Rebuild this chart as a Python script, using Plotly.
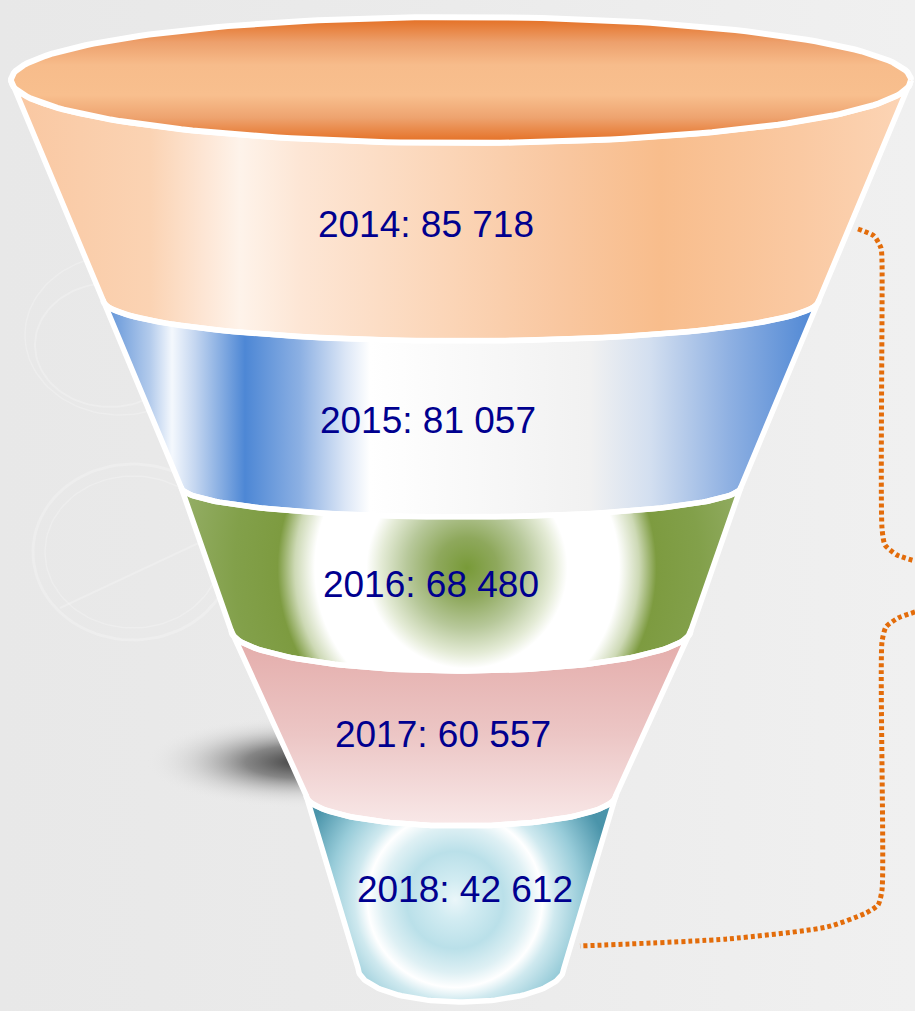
import numpy as np
import plotly.graph_objects as go

# ---------------- data ----------------
years = ["2014", "2015", "2016", "2017", "2018"]
values = [85718, 81057, 68480, 60557, 42612]

# ---------------- decorative funnel geometry (pixel-like axis units) ----------------
CX = 461
RIM_Y, RIM_A, RIM_B = 80, 450, 63
LEVEL_Y = [300, 487, 630, 795, 968]      # y of band boundary ends
LEVEL_HALF = [358, 280, 230, 155, 103]   # half width of boundary
LEVEL_SAG = [41, 30, 41, 31, 34]         # ellipse depth of boundary
LABEL_X = [426, 428, 431, 443, 465]
LABEL_Y = [228, 424, 588, 738, 893]

labels = [f"{y}: {v:,}".replace(",", " ") for y, v in zip(years, values)]


def arc(yc, a, b, t0, t1, n=90):
    t = np.linspace(t0, t1, n)
    return list(CX + a * np.cos(t)), list(yc + b * np.sin(t))


def band_outline(i):
    if i == 0:
        tx, ty = arc(RIM_Y, RIM_A, RIM_B, np.pi, 0)
    else:
        tx, ty = arc(LEVEL_Y[i - 1], LEVEL_HALF[i - 1], LEVEL_SAG[i - 1], np.pi, 0)
    bx, by = arc(LEVEL_Y[i], LEVEL_HALF[i], LEVEL_SAG[i], 0, np.pi)
    return tx + bx, ty + by


def pad_square(xs, ys, cx, cy):
    xs, ys = list(xs), list(ys)
    R = max(max(abs(x - cx) for x in xs), max(abs(y - cy) for y in ys)) + 1
    px, py = xs[-1], ys[-1]
    for qx, qy in [(cx - R, py), (cx + R, py), (px, cy - R), (px, cy + R)]:
        xs += [qx, px]
        ys += [qy, py]
    return xs, ys, R


def scale(start, stop, stops):
    return [[(v - start) / (stop - start), c] for v, c in stops]


fig = go.Figure()

# background
fig.add_trace(go.Scatter(
    x=[0, 915, 915, 0, 0], y=[0, 0, 1011, 1011, 0], mode="lines", fill="toself",
    line=dict(width=0),
    fillgradient=dict(type="horizontal", start=0, stop=915,
                      colorscale=[[0, "#e8e8e8"], [0.5, "#ebebeb"], [1, "#f0f0f0"]]),
    hoverinfo="skip"))

# faint aerial-photo features
for (ex, ey, ea, eb, w) in [(133, 552, 100, 88, 3), (133, 552, 88, 76, 1.5), (110, 345, 75, 62, 2),
                            (120, 335, 95, 80, 1.5)]:
    t = np.linspace(0, 2 * np.pi, 120)
    fig.add_trace(go.Scatter(x=ex + ea * np.cos(t), y=ey + eb * np.sin(t), mode="lines",
                             line=dict(color="rgba(255,255,255,0.22)", width=w), hoverinfo="skip"))
fig.add_trace(go.Scatter(x=[60, 205], y=[608, 540], mode="lines",
                         line=dict(color="rgba(255,255,255,0.22)", width=2), hoverinfo="skip"))

# shadow
t = np.linspace(0, 2 * np.pi, 120)
fig.add_trace(go.Scatter(
    x=300 + 155 * np.cos(t), y=762 + 46 * np.sin(t), mode="lines", fill="toself",
    line=dict(width=0),
    fillgradient=dict(type="radial", colorscale=[[0, "rgba(55,55,55,0.95)"], [0.35, "rgba(90,90,90,0.7)"],
                                                 [0.7, "rgba(170,170,170,0.3)"], [1, "rgba(233,233,233,0)"]]),
    hoverinfo="skip"))

# band fills
fills = []
# 2014 peach, horizontal
fills.append(dict(type="horizontal", start=11, stop=911, colorscale=scale(11, 911, [
    (11, "#f9c7a1"), (150, "#fbd3b3"), (205, "#fde6d5"), (240, "#fef3ea"), (300, "#fde6d5"),
    (450, "#fbd5b7"), (560, "#f9c7a0"), (660, "#f8bd8c"), (800, "#fac9a2"), (911, "#fcd5b6")])))
# 2015 blue, horizontal
fills.append(dict(type="horizontal", start=103, stop=822, colorscale=scale(103, 822, [
    (103, "#5a8fd6"), (150, "#b3cbec"), (172, "#f4f8fd"), (195, "#c4d6f0"), (245, "#4d87d5"),
    (300, "#8cb0e3"), (345, "#dbe6f6"), (370, "#ffffff"), (480, "#f8f8f8"), (590, "#f1f1f1"),
    (650, "#d3dff0"), (730, "#8eb0e2"), (822, "#4a84d3")])))
# 2016 green, radial
fills.append(dict(type="radial", center=(467, 568), colorscale=[
    [0, "#789a38"], [0.105, "#8ea85c"], [0.21, "#b7c89a"], [0.30, "#e4ebd6"], [0.35, "#ffffff"],
    [0.53, "#ffffff"], [0.60, "#cdd9b5"], [0.66, "#7d9b40"], [0.81, "#82a04a"], [1, "#93ad64"]]))
# 2017 pink, vertical
fills.append(dict(type="vertical", start=640, stop=830, colorscale=[
    [0, "#e4adab"], [0.5, "#ecc6c5"], [1, "#f9eaea"]]))
# 2018 cyan, radial
fills.append(dict(type="radial", center=(455, 900), colorscale=[
    [0, "#eaf6f9"], [0.12, "#d2ecf2"], [0.3, "#bae0e9"], [0.45, "#def0f4"], [0.54, "#ffffff"],
    [0.62, "#cfe9ef"], [0.78, "#98ccd9"], [1, "#4a94aa"]]))

for i in range(len(years)):
    xs, ys = band_outline(i)
    spec = dict(fills[i])
    if spec["type"] == "radial":
        cx, cy = spec.pop("center")
        xs, ys, _ = pad_square(xs, ys, cx, cy)
    fig.add_trace(go.Scatter(x=xs, y=ys, mode="lines", fill="toself", line=dict(width=0),
                             fillgradient=spec, hoverinfo="skip"))

for i in range(len(years)):
    xs, ys = band_outline(i)
    fig.add_trace(go.Scatter(x=xs + xs[:1], y=ys + ys[:1], mode="lines",
                             line=dict(color="white", width=5.5), hoverinfo="skip"))

# rim (opening of the funnel)
rx, ry = arc(RIM_Y, RIM_A, RIM_B, 0, 2 * np.pi, 200)
fig.add_trace(go.Scatter(
    x=rx, y=ry, mode="lines", fill="toself", line=dict(color="white", width=6),
    fillgradient=dict(type="vertical", start=RIM_Y - RIM_B, stop=RIM_Y + RIM_B, colorscale=[
        [0, "#e36c1f"], [0.2, "#eda06c"], [0.38, "#f7bc8b"], [0.62, "#f8bf8e"], [0.8, "#eea36f"],
        [1, "#e46d21"]]),
    hoverinfo="skip"))

# dotted bracket
bracket = [
    ([858, 874, 881, 882, 882, 885, 897, 915], [229, 236, 248, 262, 528, 545, 555, 561]),
    ([915, 898, 886, 882, 882, 878, 866, 827, 727, 580], [612, 618, 627, 642, 890, 905, 913, 927, 939, 946]),
]
for bx, by in bracket:
    fig.add_trace(go.Scatter(x=bx, y=by, mode="lines",
                             line=dict(color="#e36c0a", width=5, dash="4px,3px", shape="spline", smoothing=0.6),
                             hoverinfo="skip"))

# labels
fig.add_trace(go.Scatter(x=LABEL_X, y=LABEL_Y, mode="text", text=labels, textposition="middle center",
                         textfont=dict(family="Liberation Sans, Arial, sans-serif", size=37, color="#00008f"),
                         hoverinfo="skip"))

fig.update_layout(
    width=915, height=1011, margin=dict(l=0, r=0, t=0, b=0),
    paper_bgcolor="#ebebeb", plot_bgcolor="#ebebeb", showlegend=False,
    xaxis=dict(range=[0, 915], visible=False, fixedrange=True),
    yaxis=dict(range=[1011, 0], visible=False, fixedrange=True),
)

fig.write_html("out.html", config={"displayModeBar": False},
               post_script="document.body.style.margin='0';document.body.style.overflow='hidden';")
